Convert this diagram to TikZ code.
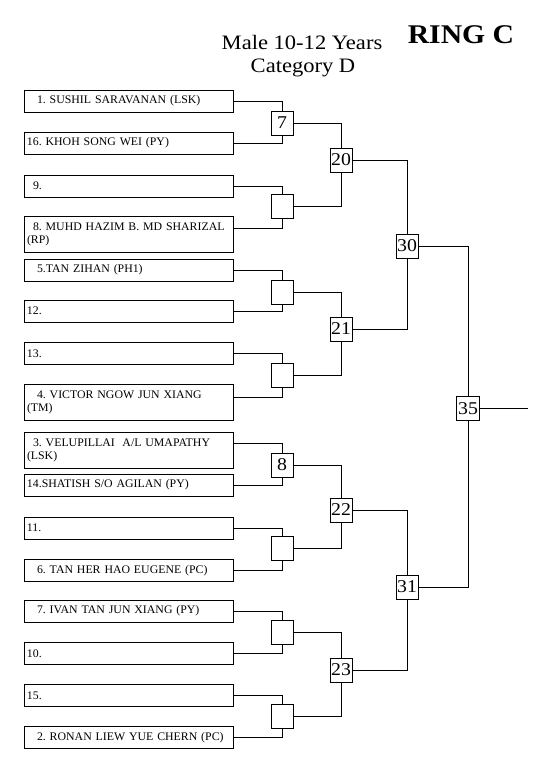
\documentclass[tikz,border=0pt]{standalone}
\usepackage{fontspec}
\setmainfont{Liberation Serif}[FakeStretch=1.1]
\newfontfamily\pfont{Liberation Serif}[FakeStretch=1.02]
\frenchspacing
\begin{document}
\begin{tikzpicture}[x=1pt,y=-1pt,
  pbox/.style={draw, line width=0.8pt, minimum height=22pt, text width=203pt,
    inner xsep=3pt, inner ysep=0pt, align=left,
    font=\pfont\fontsize{11.6}{13.5}\selectfont},
  pbox2/.style={pbox, minimum height=36pt},
  rbox/.style={draw, line width=0.8pt, minimum width=22pt, minimum height=24pt,
    inner sep=0pt, fill=white, font=\fontsize{18}{20}\selectfont},
  link/.style={line width=0.8pt},
  title/.style={anchor=base, font=\fontsize{20.5}{24}\selectfont},
  ring/.style={anchor=base, font=\fontsize{27}{30}\selectfont\bfseries}]
\useasboundingbox (0,0) rectangle (540,780);
% header
\node[title] (t1) at (302,49) {Male 10-12 Years};
\node[title] (t2) at (303,72) {Category D};
\node[ring] (rc) at (461,43) {RING C};
% players
\node[pbox]  (p1)  at (128.5,101)   {\hspace*{10pt}1. SUSHIL SARAVANAN (LSK)};
\node[pbox]  (p16) at (128.5,143)   {16. KHOH SONG WEI (PY)};
\node[pbox]  (p9)  at (128.5,186)   {\hspace*{6pt}9.};
\node[pbox2] (p8)  at (128.5,234.5) {\mbox{\hspace*{6pt}8. MUHD HAZIM B. MD SHARIZAL}\\(RP)};
\node[pbox]  (p5)  at (128.5,270)   {\hspace*{10pt}5.TAN ZIHAN (PH1)};
\node[pbox]  (p12) at (128.5,311)   {12.};
\node[pbox]  (p13) at (128.5,353.5) {13.};
\node[pbox2] (p4)  at (128.5,402.5) {\mbox{\hspace*{10pt}4. VICTOR NGOW JUN XIANG}\\(TM)};
\node[pbox2] (p3)  at (128.5,450.5) {\mbox{\hspace*{6pt}3. VELUPILLAI\ \ A/L UMAPATHY}\\(LSK)};
\node[pbox]  (p14) at (128.5,485)   {\mbox{14.SHATISH S/O AGILAN (PY)}};
\node[pbox]  (p11) at (128.5,528)   {11.};
\node[pbox]  (p6)  at (128.5,570.5) {\mbox{\hspace*{10pt}6. TAN HER HAO EUGENE (PC)}};
\node[pbox]  (p7)  at (128.5,611)   {\mbox{\hspace*{10pt}7. IVAN TAN JUN XIANG (PY)}};
\node[pbox]  (p10) at (128.5,653.5) {10.};
\node[pbox]  (p15) at (128.5,695.5) {15.};
\node[pbox]  (p2)  at (128.5,737.5) {\mbox{\hspace*{10pt}2. RONAN LIEW YUE CHERN (PC)}};
% round 1
\node[rbox] (ra) at (282,123) {7};
\node[rbox] (rb) at (282,206) {};
\node[rbox] (rc1) at (282,292) {};
\node[rbox] (rd) at (282,375) {};
\node[rbox] (re) at (282,465) {8};
\node[rbox] (rf) at (282,548) {};
\node[rbox] (rg) at (282,632) {};
\node[rbox] (rh) at (282,716) {};
% round 2
\node[rbox] (sa) at (341,160) {20};
\node[rbox] (sb) at (341,329) {21};
\node[rbox] (sc) at (341,510) {22};
\node[rbox] (sd) at (341,670) {23};
% round 3
\node[rbox] (ta) at (407,246) {30};
\node[rbox] (tb) at (407,587) {31};
% final
\node[rbox, minimum width=23pt] (fin) at (468,408.5) {35};
\coordinate (out) at (528,408.5);
% links
\draw[link] (p1.east) -| (ra.north);
\draw[link] (p16.east) -| (ra.south);
\draw[link] (p9.east) -| (rb.north);
\draw[link] ([yshift=-12pt]p8.north east) -| (rb.south);
\draw[link] (p5.east) -| (rc1.north);
\draw[link] (p12.east) -| (rc1.south);
\draw[link] (p13.east) -| (rd.north);
\draw[link] ([yshift=-13pt]p4.north east) -| (rd.south);
\draw[link] ([yshift=-11pt]p3.north east) -| (re.north);
\draw[link] (p14.east) -| (re.south);
\draw[link] (p11.east) -| (rf.north);
\draw[link] (p6.east) -| (rf.south);
\draw[link] (p7.east) -| (rg.north);
\draw[link] (p10.east) -| (rg.south);
\draw[link] (p15.east) -| (rh.north);
\draw[link] (p2.east) -| (rh.south);
\draw[link] (ra.east) -| (sa.north);
\draw[link] (rb.east) -| (sa.south);
\draw[link] (rc1.east) -| (sb.north);
\draw[link] (rd.east) -| (sb.south);
\draw[link] (re.east) -| (sc.north);
\draw[link] (rf.east) -| (sc.south);
\draw[link] (rg.east) -| (sd.north);
\draw[link] (rh.east) -| (sd.south);
\draw[link] (sa.east) -| (ta.north);
\draw[link] (sb.east) -| (ta.south);
\draw[link] (sc.east) -| (tb.north);
\draw[link] (sd.east) -| (tb.south);
\draw[link] (ta.east) -| (fin.north);
\draw[link] (tb.east) -| (fin.south);
\draw[link] (fin.east) -- (out);
\end{tikzpicture}
\end{document}
